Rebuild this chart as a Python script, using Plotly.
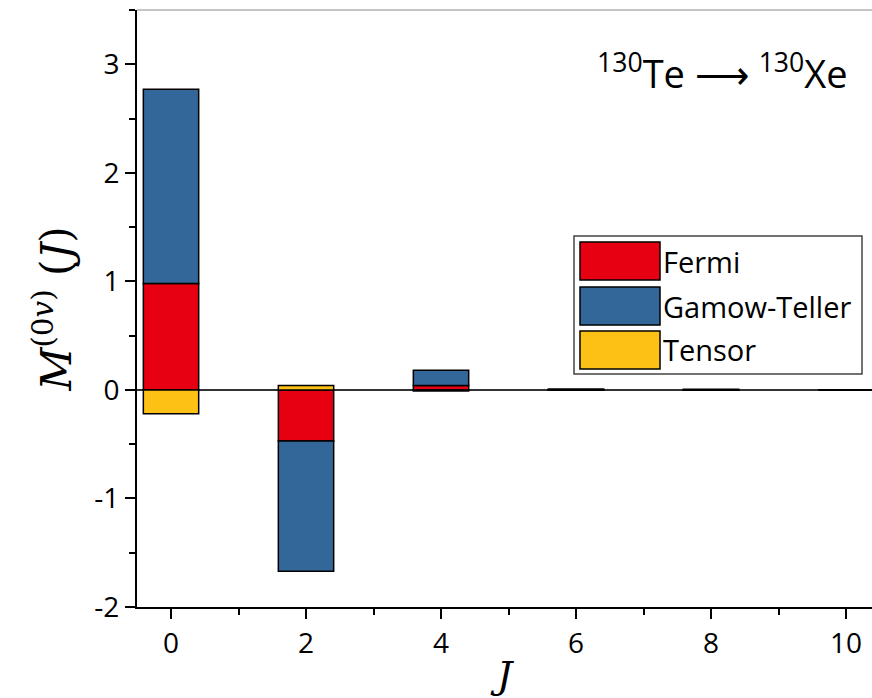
import plotly.graph_objects as go

# Angular-momentum decomposition of the 0vββ nuclear matrix element
J = [0, 2, 4, 6, 8, 10]
fermi = [0.98, -0.47, 0.04, 0.002, 0.001, 0.0]
gamow_teller = [1.79, -1.20, 0.14, 0.006, 0.004, 0.0]
tensor = [-0.22, 0.04, -0.01, -0.002, -0.001, 0.0]

series_names = ["Fermi", "Gamow-Teller", "Tensor"]
series_colors = ["#e60012", "#336699", "#fdc116"]

y_ticks = [-2, -1, 0, 1, 2, 3]
y_ticklabels = ["-2", "-1", "0", "1", "2", "3"]
x_ticks = [0, 2, 4, 6, 8, 10]

W, H = 872, 698
L, R, T, B = 137, 0, 10, 91
PW, PH = W - L - R, H - T - B


def px(x):
    return (x - L) / PW


def py(y):
    return (H - B - y) / PH


fig = go.Figure()
for name, vals, col in zip(series_names, [fermi, gamow_teller, tensor], series_colors):
    fig.add_trace(go.Bar(
        x=J, y=vals, name=name, width=0.82,
        marker=dict(color=col, line=dict(color="black", width=1.5)),
        showlegend=False,
    ))

sans = "Open Sans, Noto Sans, sans-serif"
tick_font = dict(family=sans, size=28, color="black")

fig.update_layout(
    width=W, height=H,
    margin=dict(l=L, r=R, t=T, b=B),
    plot_bgcolor="white", paper_bgcolor="white",
    barmode="relative",
    xaxis=dict(
        range=[-0.504, 10.385], tickvals=x_ticks,
        showline=True, linecolor="black", linewidth=2,
        ticks="outside", ticklen=10, tickwidth=2, tickcolor="black",
        minor=dict(tickvals=[1, 3, 5, 7, 9], ticks="outside", ticklen=6, tickwidth=2, tickcolor="black"),
        showgrid=False, zeroline=False, tickfont=tick_font,
        title=dict(text="<i>J</i>", font=dict(family="DejaVu Serif, serif", size=38, color="black"), standoff=2),
    ),
    yaxis=dict(
        range=[-2, 3.5], tickvals=y_ticks, ticktext=y_ticklabels,
        showline=True, linecolor="black", linewidth=2,
        ticks="outside", ticklen=10, tickwidth=2, tickcolor="black",
        minor=dict(dtick=0.5, ticks="outside", ticklen=6, tickwidth=2, tickcolor="black"),
        showgrid=False, zeroline=True, zerolinecolor="#333333", zerolinewidth=1.5,
        tickfont=tick_font,
        title=dict(text="<i>M</i><sup>(0<i>v</i>)</sup> (<i>J</i>)",
                   font=dict(family="DejaVu Serif, serif", size=42, color="black"), standoff=10),
    ),
)

shapes = [
    # top frame line
    dict(type="line", xref="paper", yref="paper", x0=0, x1=1, y0=1, y1=1,
         line=dict(color="#b0b0b0", width=1.5)),
    # legend box
    dict(type="rect", xref="paper", yref="paper", x0=px(574), x1=px(862), y0=py(374), y1=py(236),
         line=dict(color="#444444", width=1.5), fillcolor="white"),
]
annotations = [
    dict(text="<sup>130</sup>Te ⟶ <sup>130</sup>Xe", xref="paper", yref="paper",
         x=px(850), y=py(72), xanchor="right", yanchor="middle", showarrow=False,
         font=dict(family=sans, size=38, color="black")),
]
row_top = [242, 287, 331]
for name, col, top in zip(series_names, series_colors, row_top):
    shapes.append(dict(type="rect", xref="paper", yref="paper",
                       x0=px(580), x1=px(660), y0=py(top + 38), y1=py(top),
                       line=dict(color="black", width=1.5), fillcolor=col))
    annotations.append(dict(text=name, xref="paper", yref="paper",
                            x=px(661), y=py(top + 19), xanchor="left", yanchor="middle",
                            showarrow=False,
                            font=dict(family=sans, size=29, color="black")))

fig.update_layout(shapes=shapes, annotations=annotations)
fig.write_html("out.html")
